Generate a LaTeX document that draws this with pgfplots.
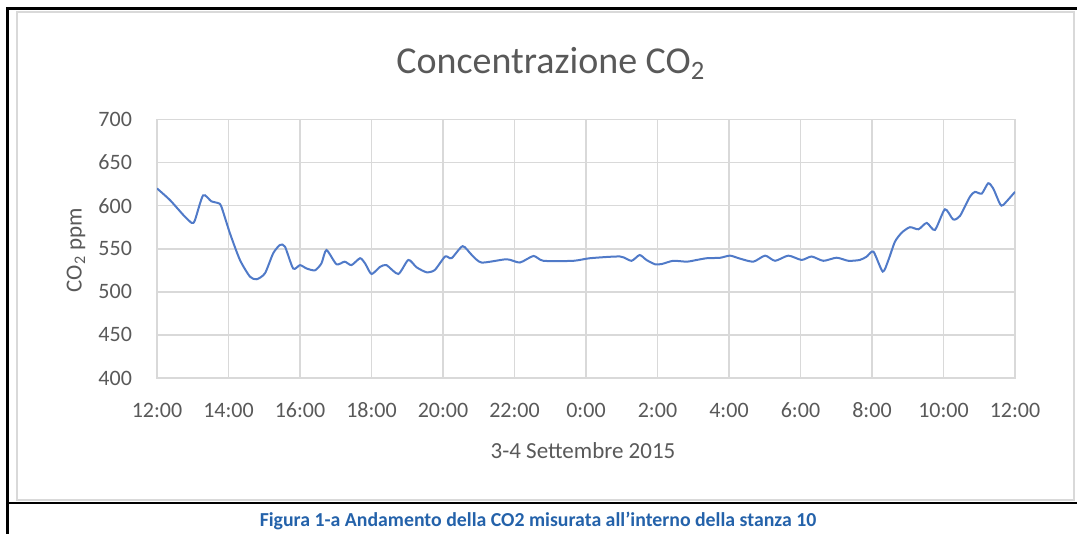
\documentclass[border=0pt]{standalone}
\usepackage{pgfplots}
\pgfplotsset{compat=1.18}
\usepackage{fontspec}
\setmainfont{Carlito}
\definecolor{lineblue}{RGB}{80,122,200}
\definecolor{txtgrey}{RGB}{89,89,89}
\definecolor{gridgrey}{RGB}{217,217,217}
\definecolor{capblue}{RGB}{36,98,170}
\begin{document}
\begin{tikzpicture}[x=0.5pt,y=0.5pt]
\path[use as bounding box] (0,0) rectangle (1077,534);
% chart frame
\draw[gridgrey,line width=0.8pt] (17,34) rectangle (1074,522);
\begin{axis}[
  at={(78.5pt,78pt)}, anchor=south west,
  width=429pt, height=129.25pt, scale only axis,
  xmin=0, xmax=24, ymin=400, ymax=700,
  xtick={0,2,...,24},
  xticklabels={12:00,14:00,16:00,18:00,20:00,22:00,0:00,2:00,4:00,6:00,8:00,10:00,12:00},
  ytick={400,450,...,700},
  grid=major,
  major grid style={gridgrey,line width=0.8pt},
  axis line style={gridgrey,line width=0.8pt},
  tick style={draw=none},
  /pgf/number format/assume math mode=true,
  /pgf/number format/1000 sep={},
  ticklabel style={font=\fontsize{11}{13}\selectfont,text=txtgrey},
  xticklabel style={yshift=-8.5pt,text height=1.6ex,text depth=0.2ex},
  yticklabel style={xshift=-9pt},
  xlabel={3-4 Settembre 2015},
  ylabel={CO\textsubscript{2} ppm},
  xlabel style={font=\fontsize{11.5}{13}\selectfont,text=txtgrey,at={(axis description cs:0.4965,-0.282)},anchor=center},
  ylabel style={font=\fontsize{11.5}{13}\selectfont,text=txtgrey,at={(axis description cs:-0.0944,0.495)},anchor=center,rotate=0},
  title={Concentrazione CO\textsubscript{2}},
  title style={font=\fontsize{19}{21}\selectfont,text=txtgrey,at={(axis description cs:0.459,1.17)},anchor=center},
]
\addplot[lineblue,line width=1pt,smooth,tension=0.4] coordinates {
(0,620) (0.36,606.6) (0.74,589) (0.97,580) (1.06,583) (1.29,612) (1.52,605) (1.71,603) (1.8,599)
(2.04,568) (2.32,537) (2.6,517.6) (2.79,514.6) (3.02,521.5) (3.25,544.7) (3.44,554.4) (3.58,552.4)
(3.81,527) (4.0,531) (4.19,527) (4.42,525) (4.6,533) (4.74,548.5) (5.02,532) (5.25,535) (5.44,531)
(5.68,539) (5.82,533) (6.0,520.7) (6.24,529) (6.42,531) (6.75,520.7) (7.03,537) (7.26,528.5)
(7.54,522.7) (7.77,525.3) (8.06,541) (8.24,539) (8.55,553) (8.8,543) (9.08,534) (9.78,537.8)
(10.15,534) (10.53,541.6) (10.81,536) (11.65,536) (12.11,539) (12.95,541) (13.27,536) (13.5,542.7)
(13.69,537) (13.93,532) (14.12,532.3) (14.44,536) (14.82,535) (15.1,537) (15.38,539) (15.75,539.5)
(16.03,542) (16.31,538.5) (16.68,535) (17.01,542) (17.29,536) (17.66,542) (18.03,537) (18.31,541)
(18.64,536) (19.01,539.6) (19.34,536) (19.66,537) (19.85,540.8) (20.04,546.6) (20.3,523.5)
(20.46,537) (20.64,558) (20.83,568.6) (21.06,575) (21.3,572.6) (21.53,580) (21.76,571.8)
(22.04,595.8) (22.27,584) (22.46,588) (22.74,610.4) (22.88,616) (23.07,614) (23.25,626)
(23.39,620) (23.58,602) (23.67,600.8) (24,616)
};
\end{axis}
% outer black frame lines
\draw[black,line width=1.5pt] (7.5,0) -- (7.5,525) -- (1077,525);
\draw[black,line width=1.2pt] (7.5,31) -- (1077,31);
\node[font=\bfseries\fontsize{9.9}{12}\selectfont,text=capblue,anchor=center] at (538,13) {Figura 1-a Andamento della CO2 misurata all’interno della stanza 10};
\end{tikzpicture}
\end{document}
